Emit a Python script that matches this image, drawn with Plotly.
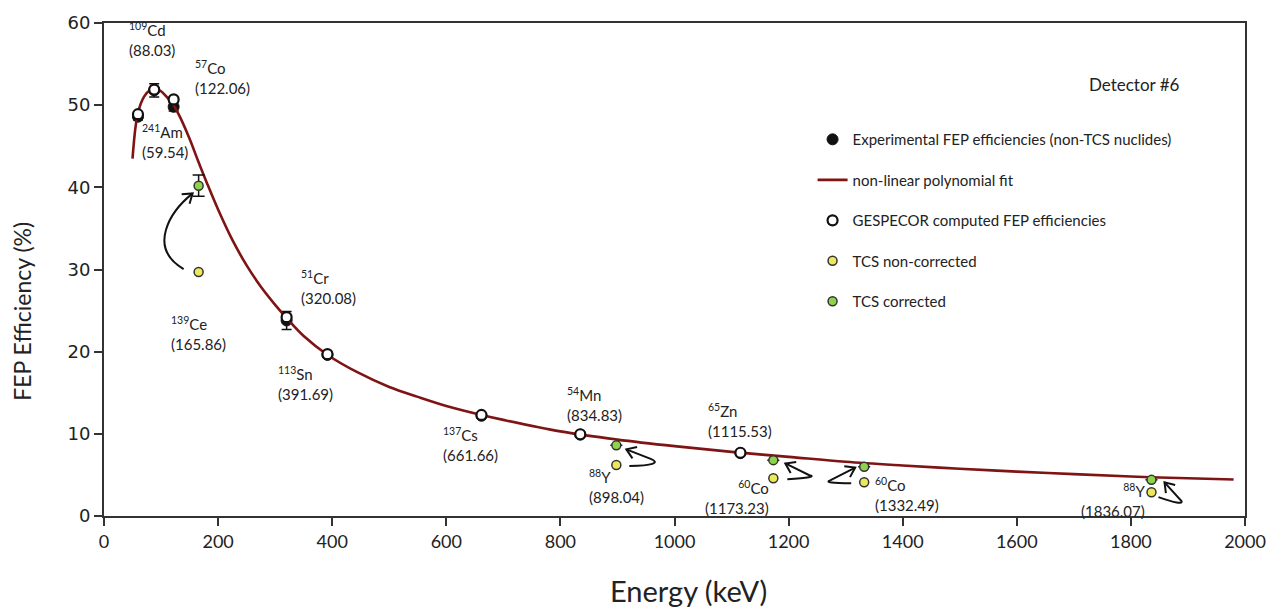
import math
import plotly.graph_objects as go

# ---------------- data ----------------
# non-TCS nuclides: experimental and GESPECOR-computed FEP efficiencies
exp_energy = [59.54, 88.03, 122.06, 320.08, 391.69, 661.66, 834.83, 1115.53]
exp_eff = [48.6, 51.8, 49.8, 23.8, 19.6, 12.2, 9.9, 7.65]
exp_err = [0.4, 0.8, 0.5, 1.1, 0.2, 0.2, 0.2, 0.2]

ges_eff = [48.9, 51.9, 50.7, 24.2, 19.7, 12.3, 9.95, 7.7]

# TCS nuclides: before and after true-coincidence-summing correction
tcs_energy = [165.86, 898.04, 1173.23, 1332.49, 1836.07]
tcs_raw = [29.7, 6.2, 4.6, 4.1, 2.9]
tcs_corr = [40.2, 8.6, 6.8, 6.0, 4.4]
tcs_corr_err = [1.3, 0.0, 0.0, 0.0, 0.0]

# efficiency curve (non-linear polynomial fit), sampled
fit_energy = [50, 55, 60, 70, 80, 90, 100, 110, 122, 135, 150, 165, 180, 200, 225, 250, 275,
              300, 320, 350, 392, 444, 500, 550, 600, 662, 700, 800, 900, 1000, 1100, 1200,
              1300, 1400, 1500, 1600, 1700, 1800, 1900, 1980]
fit_eff = [43.5, 47.2, 49.2, 51.0, 51.8, 52.0, 51.7, 51.0, 50.0, 48.3, 45.9, 43.2, 40.6, 37.3,
           33.6, 30.5, 27.9, 25.7, 24.1, 21.9, 19.6, 17.5, 15.7, 14.5, 13.4, 12.3, 11.7, 10.3,
           9.3, 8.5, 7.8, 7.2, 6.6, 6.15, 5.75, 5.4, 5.1, 4.8, 4.6, 4.45]

# nuclide labels: (mass number, element, energy keV, efficiency the label sits by)
labels = [
    ("241", "Am", 59.54, 48.9),
    ("109", "Cd", 88.03, 51.9),
    ("57", "Co", 122.06, 50.7),
    ("139", "Ce", 165.86, 29.7),
    ("51", "Cr", 320.08, 24.2),
    ("113", "Sn", 391.69, 19.7),
    ("137", "Cs", 661.66, 12.3),
    ("54", "Mn", 834.83, 9.95),
    ("88", "Y", 898.04, 6.2),
    ("65", "Zn", 1115.53, 7.7),
    ("60", "Co", 1173.23, 4.6),
    ("60", "Co", 1332.49, 4.1),
    ("88", "Y", 1836.07, 2.9),
]

# ---------------- layout geometry ----------------
W_PX, H_PX = 1283, 612
M_L, M_R, M_T, M_B = 104, 38, 14, 96
X_RANGE = [0, 2000]
Y_RANGE = [0, 60]
PLOT_W = W_PX - M_L - M_R
PLOT_H = H_PX - M_T - M_B


def to_px(x, y):
    px = M_L + (x - X_RANGE[0]) / (X_RANGE[1] - X_RANGE[0]) * PLOT_W
    py = M_T + PLOT_H - (y - Y_RANGE[0]) / (Y_RANGE[1] - Y_RANGE[0]) * PLOT_H
    return px, py


def to_data(px, py):
    x = X_RANGE[0] + (px - M_L) / PLOT_W * (X_RANGE[1] - X_RANGE[0])
    y = Y_RANGE[0] + (M_T + PLOT_H - py) / PLOT_H * (Y_RANGE[1] - Y_RANGE[0])
    return x, y


BLACK = "#111111"
FIT_RED = "#7f1414"
YELLOW = "#ece85a"
GREEN = "#8fd24c"
TEXT = "#222222"
FONT = "Lato"

fig = go.Figure()

fig.add_trace(go.Scatter(
    x=exp_energy, y=exp_eff, mode="markers",
    name="Experimental FEP efficiencies (non-TCS nuclides)",
    legendgroup="a",
    marker=dict(symbol="circle", size=11, color=BLACK, line=dict(color=BLACK, width=1)),
    error_y=dict(type="data", array=exp_err, color=BLACK, thickness=1.5, width=5),
))

fig.add_trace(go.Scatter(
    x=fit_energy, y=fit_eff, mode="lines",
    name="non-linear polynomial fit", legendgroup="b",
    line=dict(color=FIT_RED, width=2.6, shape="spline", smoothing=1.0),
))

fig.add_trace(go.Scatter(
    x=exp_energy, y=ges_eff, mode="markers",
    name="GESPECOR computed FEP efficiencies", legendgroup="c",
    marker=dict(symbol="circle", size=10, color="white", line=dict(color=BLACK, width=2.2)),
))

fig.add_trace(go.Scatter(
    x=tcs_energy, y=tcs_raw, mode="markers",
    name="TCS non-corrected", legendgroup="d",
    marker=dict(symbol="circle", size=9, color=YELLOW, line=dict(color="#333333", width=1.5)),
))

fig.add_trace(go.Scatter(
    x=tcs_energy, y=tcs_corr, mode="markers",
    name="TCS corrected", legendgroup="e",
    marker=dict(symbol="circle", size=9, color=GREEN, line=dict(color="#333333", width=1.5)),
    error_y=dict(type="data", array=tcs_corr_err, color=BLACK, thickness=1.5, width=6),
))

# ---------------- nuclide labels ----------------
# (xanchor, yanchor, xshift px, yshift px, text alignment) for each label
label_style = [
    ("left", "top", 2, -6, "left"),
    ("left", "bottom", -27, 29, "left"),
    ("left", "middle", 19, 22, "left"),
    ("left", "top", -30, -40, "left"),
    ("left", "bottom", 12, 8, "left"),
    ("left", "top", -51, -8, "left"),
    ("left", "top", -40, -8, "left"),
    ("left", "bottom", -15, 8, "left"),
    ("left", "top", -29, 0, "left"),
    ("left", "bottom", -34, 11, "left"),
    ("right", "top", -2, 2, "right"),
    ("left", "top", 9, 9, "left"),
    ("right", "top", -4, 13, "right"),
]

annotations = []
for (mass, elem, en, eff), (xa, ya, dx, dy, al) in zip(labels, label_style):
    energy_txt = f"{en:.2f}"
    annotations.append(dict(
        x=en, y=eff, xref="x", yref="y",
        text=f"<sup>{mass}</sup>{elem}<br>({energy_txt})",
        showarrow=False, xanchor=xa, yanchor=ya, xshift=dx, yshift=dy, align=al,
        font=dict(family=FONT, size=15, color=TEXT),
    ))

annotations.append(dict(
    x=0.903, y=0.875, xref="paper", yref="paper", text="Detector #6",
    showarrow=False, xanchor="center", yanchor="middle",
    font=dict(family=FONT, size=17, color=TEXT),
))

# axis titles
annotations.append(dict(
    x=-0.072, y=0.416, xref="paper", yref="paper", text="FEP Efficiency (%)",
    textangle=-90, showarrow=False, xanchor="center", yanchor="middle",
    font=dict(family=FONT, size=23, color=TEXT),
))
annotations.append(dict(
    x=0.512, y=-0.151, xref="paper", yref="paper", text="Energy (keV)",
    showarrow=False, xanchor="center", yanchor="middle",
    font=dict(family=FONT, size=29, color=TEXT),
))

# ---------------- correction arrows (yellow -> green) ----------------
# pixel offsets from each non-corrected point; last two points give the arrowhead direction
arrow_paths = [
    ("C", [(-15, -3), (-52, -25), (-28, -62), (-6, -80)]),
    ("Q", [(13, 1), (48, 0), (35, -6), (10, -16)]),
    ("Q", [(14, 1), (46, -1), (36, -3), (12, -15)]),
    ("Q", [(-13, 1), (-42, 1), (-34, -2), (-9, -15)]),
    ("Q", [(7, 5), (32, 14), (30, 9), (13, -10)]),
]


def fmt(pt):
    x, y = to_data(*pt)
    return f"{x:.3f},{y:.4f}"


shapes = []
for (kind, offs), en, eff in zip(arrow_paths, tcs_energy, tcs_raw):
    bx, by = to_px(en, eff)
    pts = [(bx + ox, by + oy) for ox, oy in offs]
    if kind == "C":
        path = f"M {fmt(pts[0])} C {fmt(pts[1])} {fmt(pts[2])} {fmt(pts[3])}"
    else:
        path = f"M {fmt(pts[0])} Q {fmt(pts[1])} {fmt(pts[2])} L {fmt(pts[3])}"
    shapes.append(dict(type="path", xref="x", yref="y", path=path,
                       line=dict(color=BLACK, width=2)))
    # open chevron arrowhead at the tip
    tx, ty = pts[3]
    px_, py_ = pts[2]
    ang = math.atan2(py_ - ty, px_ - tx)
    wings = []
    for da in (0.6, -0.6):
        wings.append((tx + 11 * math.cos(ang + da), ty + 11 * math.sin(ang + da)))
    head = f"M {fmt(wings[0])} L {fmt((tx, ty))} L {fmt(wings[1])}"
    shapes.append(dict(type="path", xref="x", yref="y", path=head,
                       line=dict(color=BLACK, width=2)))

axis_common = dict(
    showgrid=False, zeroline=False, showline=True, linecolor="#333333", linewidth=2,
    mirror=True, ticks="outside", ticklen=8, tickwidth=1.5, tickcolor="#333333",
)

fig.update_layout(
    width=W_PX, height=H_PX,
    margin=dict(l=M_L, r=M_R, t=M_T, b=M_B),
    paper_bgcolor="white", plot_bgcolor="white",
    showlegend=True,
    legend=dict(
        x=0.621, y=0.797, xanchor="left", yanchor="top",
        traceorder="grouped", tracegroupgap=18,
        font=dict(family=FONT, size=15, color=TEXT),
        bgcolor="rgba(0,0,0,0)", itemwidth=30,
    ),
    xaxis=dict(
        range=X_RANGE, dtick=200, **axis_common,
        tickfont=dict(family=FONT, size=18, color=TEXT),
    ),
    yaxis=dict(
        range=Y_RANGE, dtick=10, **axis_common,
        tickfont=dict(family="DejaVu Sans", size=18, color=TEXT),
    ),
    annotations=annotations,
    shapes=shapes,
)

fig.write_html("out.html")
